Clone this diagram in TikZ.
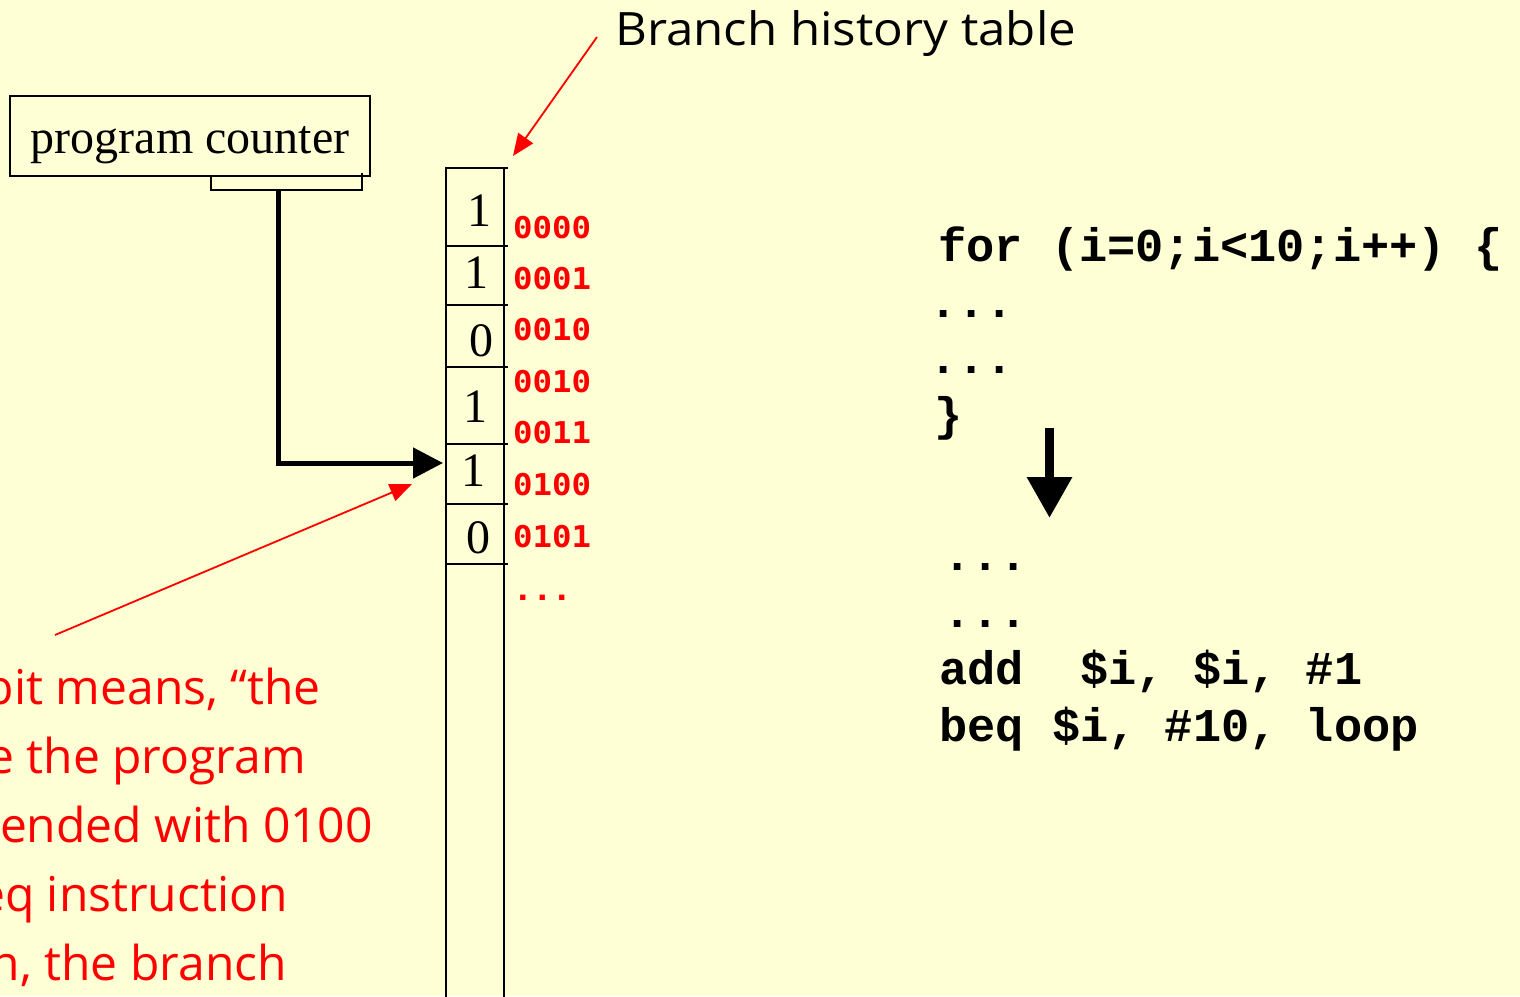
\documentclass[tikz,border=0pt]{standalone}
\usepackage{fontspec}
\setmainfont{Liberation Serif}
\newfontfamily\notefont{Open Sans}
\newfontfamily\addrfont{DejaVu Sans Mono}
\newfontfamily\codefont{Liberation Mono}
\usetikzlibrary{arrows.meta}
\definecolor{paper}{RGB}{255,255,214}
\definecolor{alarm}{RGB}{255,0,0}

\begin{document}
\begin{tikzpicture}[x=1pt,y=-1pt,
  cellline/.style={line width=2.5pt},
  bitdigit/.style={anchor=base,inner sep=0pt,font=\fontsize{48}{48}\selectfont},
  addr/.style={anchor=base west,inner sep=0pt,text=alarm,xscale=1.08,transform shape,
               font=\addrfont\bfseries\fontsize{30}{30}\selectfont},
  codeline/.style={anchor=base west,inner sep=0pt,font=\codefont\bfseries\fontsize{47}{47}\selectfont},
  note/.style={anchor=base east,inner sep=0pt,text=alarm,font=\notefont\fontsize{48}{48}\selectfont},
  pointer/.style={alarm,line width=1.8pt,-{Triangle[length=22pt,width=18pt]}},
  bigarrow/.style={line width=5pt,-{Triangle[length=30pt,width=30pt]}}
]
\fill[paper] (0,0) rectangle (1520,996);
\path[use as bounding box] (0,0) rectangle (1520,996);
\clip (0,0) rectangle (1520,996);

% program counter register
\node[draw,line width=2pt,minimum width=360pt,minimum height=80pt,inner sep=0pt,
      text height=34pt,text depth=0pt,font=\fontsize{48}{48}\selectfont]
  (pc) at (190,136) {program counter};
% bracket selecting the low-order bits
\coordinate (brL) at (211,176);
\coordinate (brR) at (362,173);
\coordinate (tap) at (278,190);
\draw[line width=2pt] (brL) -- (211,190) -- (362,190) -- (brR);

% branch history table
\foreach \y in {168,246,305,367,444,504,564}
  \draw[cellline] (445,\y) -- (508,\y);
\draw[cellline] (446,168) -- (446,1000);
\draw[cellline] (504,168) -- (504,1000);
\coordinate (entry) at (443,463);

\node[bitdigit] (b0) at (479,226) {1};
\node[bitdigit] (b1) at (476.5,288) {1};
\node[bitdigit] (b2) at (481,356) {0};
\node[bitdigit] (b3) at (475,422) {1};
\node[bitdigit] (b4) at (473,486) {1};
\node[bitdigit] (b5) at (478,553) {0};

% index of each entry
\node[addr] (a0) at (513,238) {0000};
\node[addr] (a1) at (513,289) {0001};
\node[addr] (a2) at (513,340) {0010};
\node[addr] (a3) at (513,392) {0010};
\node[addr] (a4) at (513,443) {0011};
\node[addr] (a5) at (513,495) {0100};
\node[addr] (a6) at (513,547) {0101};
\node[addr] (a7) at (513,600) {...};

% index path from the program counter into the table
\draw[bigarrow] (tap) |- (entry);

% caption of the table
\node[anchor=base west,inner sep=0pt,xscale=1.07,transform shape,
      font=\notefont\fontsize{46}{46}\selectfont]
  (bht) at (615,45) {Branch history table};
\coordinate (bhtfrom) at (597,37);
\coordinate (bhttop) at (513,156);
\draw[pointer] (bhtfrom) -- (bhttop);

% explanation of one bit
\node[note] (n1) at (321,704) {A 1 bit means, “the};
\node[note] (n2) at (306,773) {last time the program};
\node[note] (n3) at (373,842) {counter ended with 0100};
\node[note] (n4) at (288,911) {and a beq instruction};
\node[note] (n5) at (287,980) {was seen, the branch};
\coordinate (notefrom) at (55,635);
\coordinate (notetip) at (412,484);
\draw[pointer] (notefrom) -- (notetip);

% source loop
\node[codeline] (c1) at (938,261) {for (i=0;i<10;i++) \{};
\node[codeline] (c2) at (929,317) {...};
\node[codeline] (c3) at (929,373) {...};
\node[codeline] (c4) at (934,430) {\}};

% compiled loop
\coordinate (dtop) at (1049.5,428);
\coordinate (dtip) at (1049.5,518);
\draw[line width=9.5pt,-{Triangle[length=41pt,width=43pt]}] (dtop) -- (dtip);

\node[codeline] (d1) at (943,570) {...};
\node[codeline] (d2) at (943,627) {...};
\node[codeline] (d3) at (939,684) {add\ \ \$i, \$i, \#1};
\node[codeline] (d4) at (939,741) {beq \$i, \#10, loop};
\end{tikzpicture}
\end{document}
